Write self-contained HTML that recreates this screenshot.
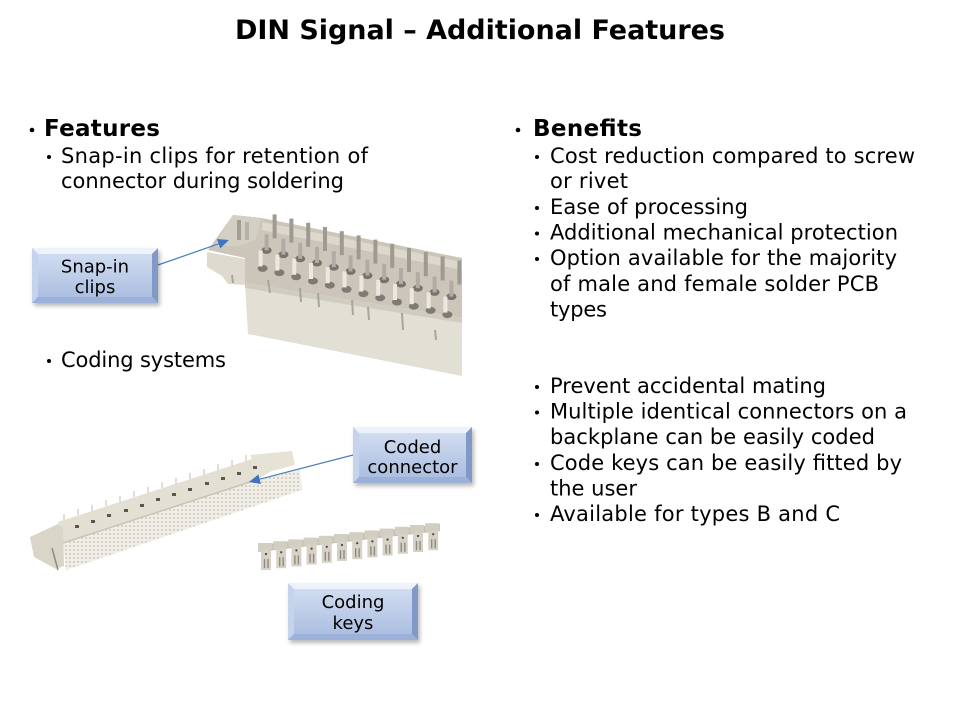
<!DOCTYPE html>
<html><head><meta charset="utf-8"><style>
html,body{margin:0;padding:0;background:#fff;width:960px;height:720px;overflow:hidden}
svg{display:block}
text{font-family:"DejaVu Sans","Liberation Sans",sans-serif;fill:#000}
</style></head><body>
<svg width="960" height="720" viewBox="0 0 960 720" xmlns="http://www.w3.org/2000/svg">
<defs>
<linearGradient id="face" x1="0" y1="0" x2="0" y2="1"><stop offset="0" stop-color="#d6e0f2"/><stop offset="1" stop-color="#a7bbdf"/></linearGradient>
<filter id="sh" x="-20%" y="-20%" width="140%" height="150%"><feGaussianBlur stdDeviation="2"/></filter>
<pattern id="dots" width="4" height="4" patternUnits="userSpaceOnUse"><rect width="4" height="4" fill="#f0eee7"/><circle cx="2" cy="2" r="1" fill="#cbc7bc"/></pattern>
<clipPath id="c1"><rect x="190" y="200" width="273" height="190"/></clipPath>
</defs>
<rect width="960" height="720" fill="#fff"/>

<!-- Title -->
<text x="480" y="39" font-size="27" font-weight="bold" text-anchor="middle" textLength="490" lengthAdjust="spacing">DIN Signal – Additional Features</text>

<!-- Left column -->
<circle cx="32" cy="130" r="2.3" fill="#000"/>
<text x="44" y="136" font-size="23" font-weight="bold" textLength="116" lengthAdjust="spacing">Features</text>
<circle cx="49" cy="157" r="2" fill="#000"/>
<text x="61" y="163" font-size="21" textLength="307" lengthAdjust="spacing">Snap-in clips for retention of</text>
<text x="61" y="188" font-size="21" textLength="283" lengthAdjust="spacing">connector during soldering</text>
<circle cx="49" cy="361" r="2" fill="#000"/>
<text x="61" y="367" font-size="21" textLength="165" lengthAdjust="spacing">Coding systems</text>

<!-- Right column -->
<circle cx="518" cy="130" r="2.3" fill="#000"/>
<text x="533" y="136" font-size="23" font-weight="bold" textLength="109" lengthAdjust="spacing">Benefits</text>
<g font-size="21">
<circle cx="537" cy="157" r="2" fill="#000"/>
<text x="550" y="163" textLength="365" lengthAdjust="spacing">Cost reduction compared to screw</text>
<text x="550" y="188" textLength="78" lengthAdjust="spacing">or rivet</text>
<circle cx="537" cy="208" r="2" fill="#000"/>
<text x="550" y="214" textLength="198" lengthAdjust="spacing">Ease of processing</text>
<circle cx="537" cy="233.5" r="2" fill="#000"/>
<text x="550" y="239.5" textLength="348" lengthAdjust="spacing">Additional mechanical protection</text>
<circle cx="537" cy="259" r="2" fill="#000"/>
<text x="550" y="265" textLength="347" lengthAdjust="spacing">Option available for the majority</text>
<text x="550" y="291" textLength="329" lengthAdjust="spacing">of male and female solder PCB</text>
<text x="550" y="316.5" textLength="57" lengthAdjust="spacing">types</text>
<circle cx="537" cy="387" r="2" fill="#000"/>
<text x="550" y="393" textLength="276" lengthAdjust="spacing">Prevent accidental mating</text>
<circle cx="537" cy="412.5" r="2" fill="#000"/>
<text x="550" y="418.5" textLength="357" lengthAdjust="spacing">Multiple identical connectors on a</text>
<text x="550" y="444" textLength="325" lengthAdjust="spacing">backplane can be easily coded</text>
<circle cx="537" cy="464" r="2" fill="#000"/>
<text x="550" y="470" textLength="352" lengthAdjust="spacing">Code keys can be easily fitted by</text>
<text x="550" y="495.5" textLength="87" lengthAdjust="spacing">the user</text>
<circle cx="537" cy="515" r="2" fill="#000"/>
<text x="550" y="521" textLength="290" lengthAdjust="spacing">Available for types B and C</text>
</g>

<!-- Connector 1 (upper) -->
<g clip-path="url(#c1)">
<polygon points="233,215 262,218 462,258 462,318 245,283 245,258 208,250" fill="#cbc6b9"/>
<polygon points="262,222 462,262 462,270 262,230" fill="#dcd8cc"/>
<polygon points="233,215 262,218 255,240 240,246 214,246" fill="#d3cfc3"/>
<rect x="237" y="220" width="4" height="20" fill="#a29e95"/>
<rect x="245" y="222" width="4" height="18" fill="#b5b1a8"/>
<polygon points="207,252 245,259 245,285 228,284 222,276 207,267" fill="#dedacf"/>
<polygon points="245,283 462,318 462,376 248,334" fill="#e2dfd5"/>
<polygon points="245,283 462,318 462,323 245,288" fill="#d0ccc0"/>
<!-- row 0 pins -->
<g fill="#9e9a92">
<rect x="272.6" y="214.4" width="4" height="24"/><rect x="289.4" y="218.6" width="4" height="24"/>
<rect x="306.2" y="222.8" width="4" height="24"/><rect x="323" y="227" width="4" height="24"/>
<rect x="339.8" y="231.2" width="4" height="24"/><rect x="356.6" y="235.4" width="4" height="24"/>
<rect x="373.4" y="239.6" width="4" height="24"/><rect x="390.2" y="243.8" width="4" height="24"/>
<rect x="407" y="248" width="4" height="24"/><rect x="423.8" y="252.2" width="4" height="24"/>
<rect x="440.6" y="256.4" width="4" height="24"/><rect x="457.4" y="260.6" width="4" height="24"/>
</g>
<!-- row 1 pins + sockets -->
<g fill="#77726d">
<ellipse cx="266.6" cy="250.4" rx="5" ry="3.5"/><ellipse cx="283.4" cy="254.6" rx="5" ry="3.5"/>
<ellipse cx="300.2" cy="258.8" rx="5" ry="3.5"/><ellipse cx="317" cy="263" rx="5" ry="3.5"/>
<ellipse cx="333.8" cy="267.2" rx="5" ry="3.5"/><ellipse cx="350.6" cy="271.4" rx="5" ry="3.5"/>
<ellipse cx="367.4" cy="275.6" rx="5" ry="3.5"/><ellipse cx="384.2" cy="279.8" rx="5" ry="3.5"/>
<ellipse cx="401" cy="284" rx="5" ry="3.5"/><ellipse cx="417.8" cy="288.2" rx="5" ry="3.5"/>
<ellipse cx="434.6" cy="292.4" rx="5" ry="3.5"/><ellipse cx="451.4" cy="296.6" rx="5" ry="3.5"/>
</g>
<g fill="#b0aca3">
<rect x="264.6" y="234.4" width="4" height="16"/><rect x="281.4" y="238.6" width="4" height="16"/>
<rect x="298.2" y="242.8" width="4" height="16"/><rect x="315" y="247" width="4" height="16"/>
<rect x="331.8" y="251.2" width="4" height="16"/><rect x="348.6" y="255.4" width="4" height="16"/>
<rect x="365.4" y="259.6" width="4" height="16"/><rect x="382.2" y="263.8" width="4" height="16"/>
<rect x="399" y="268" width="4" height="16"/><rect x="415.8" y="272.2" width="4" height="16"/>
<rect x="432.6" y="276.4" width="4" height="16"/><rect x="449.4" y="280.6" width="4" height="16"/>
</g>
<!-- row 2 pins + sockets -->
<g fill="#7f7a74">
<ellipse cx="262.6" cy="268.4" rx="5" ry="3.5"/><ellipse cx="279.4" cy="272.6" rx="5" ry="3.5"/>
<ellipse cx="296.2" cy="276.8" rx="5" ry="3.5"/><ellipse cx="313" cy="281" rx="5" ry="3.5"/>
<ellipse cx="329.8" cy="285.2" rx="5" ry="3.5"/><ellipse cx="346.6" cy="289.4" rx="5" ry="3.5"/>
<ellipse cx="363.4" cy="293.6" rx="5" ry="3.5"/><ellipse cx="380.2" cy="297.8" rx="5" ry="3.5"/>
<ellipse cx="397" cy="302" rx="5" ry="3.5"/><ellipse cx="413.8" cy="306.2" rx="5" ry="3.5"/>
<ellipse cx="430.6" cy="310.4" rx="5" ry="3.5"/><ellipse cx="447.4" cy="314.6" rx="5" ry="3.5"/>
</g>
<g fill="#ebe8df">
<rect x="258.6" y="250.4" width="4" height="16"/><rect x="275.4" y="254.6" width="4" height="16"/>
<rect x="292.2" y="258.8" width="4" height="16"/><rect x="309" y="263" width="4" height="16"/>
<rect x="325.8" y="267.2" width="4" height="16"/><rect x="342.6" y="271.4" width="4" height="16"/>
<rect x="359.4" y="275.6" width="4" height="16"/><rect x="376.2" y="279.8" width="4" height="16"/>
<rect x="393" y="284" width="4" height="16"/><rect x="409.8" y="288.2" width="4" height="16"/>
<rect x="426.6" y="292.4" width="4" height="16"/><rect x="443.4" y="296.6" width="4" height="16"/>
</g>
<!-- front face ribs -->
<g stroke="#a9a599" stroke-width="2">
<line x1="268" y1="280" x2="270" y2="293"/><line x1="300" y1="288" x2="301" y2="302"/>
<line x1="318" y1="293" x2="319" y2="307"/><line x1="352" y1="300" x2="353" y2="315"/>
<line x1="368" y1="307" x2="369" y2="320"/><line x1="402" y1="313" x2="403" y2="330"/>
<line x1="435" y1="330" x2="436" y2="340"/><line x1="232" y1="275" x2="233" y2="283"/>
</g>
</g>

<!-- Connector 2 (lower-left) -->
<polygon points="63,543 256,480 300,470 302,490 66,570" fill="url(#dots)"/>
<polygon points="58,522 252,459 256,480 63,543" fill="#e3dfd3"/>
<line x1="63" y1="543" x2="256" y2="480" stroke="#c8c4b7" stroke-width="1.5"/>
<polygon points="250,455 292,451 295,465 272,471 256,480 252,459" fill="#e6e2d6"/>
<polygon points="30,537 58,524 63,528 64,566 56,569 34,557" fill="#d9d5c8"/>
<line x1="52" y1="548" x2="58" y2="570" stroke="#8e8a82" stroke-width="1.5"/>
<g stroke="#c2beb3" stroke-width="1">
<line x1="64" y1="520" x2="64" y2="514"/><line x1="78" y1="515" x2="78" y2="509"/>
<line x1="92" y1="511" x2="92" y2="505"/><line x1="106" y1="506" x2="106" y2="500"/>
<line x1="120" y1="502" x2="120" y2="496"/><line x1="134" y1="497" x2="134" y2="491"/>
<line x1="148" y1="493" x2="148" y2="487"/><line x1="162" y1="488" x2="162" y2="482"/>
<line x1="176" y1="484" x2="176" y2="478"/><line x1="190" y1="479" x2="190" y2="473"/>
<line x1="204" y1="475" x2="204" y2="469"/><line x1="218" y1="470" x2="218" y2="464"/>
<line x1="232" y1="466" x2="232" y2="460"/><line x1="246" y1="461" x2="246" y2="455"/>
</g>
<g fill="#5a5650">
<rect x="75" y="525" width="4" height="3"/><rect x="91" y="520" width="4" height="3"/>
<rect x="107" y="514" width="4" height="3"/><rect x="124" y="509" width="4" height="3"/>
<rect x="140" y="504" width="4" height="3"/><rect x="156" y="498" width="4" height="3"/>
<rect x="172" y="493" width="4" height="3"/><rect x="188" y="488" width="4" height="3"/>
<rect x="205" y="482" width="4" height="3"/><rect x="221" y="477" width="4" height="3"/>
<rect x="237" y="472" width="4" height="3"/><rect x="253" y="466" width="4" height="3"/>
</g>

<!-- Coding keys -->
<polygon points="258,545 440,524 440,531 258,552" fill="#c4c0b2"/>
<g fill="#d2cec1">
<rect x="258" y="543" width="14" height="8"/><rect x="273.2" y="541.2" width="14" height="8"/>
<rect x="288.4" y="539.4" width="14" height="8"/><rect x="303.6" y="537.6" width="14" height="8"/>
<rect x="318.8" y="535.8" width="14" height="8"/><rect x="334" y="534" width="14" height="8"/>
<rect x="349.2" y="532.2" width="14" height="8"/><rect x="364.4" y="530.4" width="14" height="8"/>
<rect x="379.6" y="528.6" width="14" height="8"/><rect x="394.8" y="526.8" width="14" height="8"/>
<rect x="410" y="525" width="14" height="8"/><rect x="425.2" y="523.2" width="14" height="8"/>
</g>
<g fill="#d6d2c6">
<rect x="261" y="550" width="10" height="20"/><rect x="276.2" y="548.2" width="10" height="20"/>
<rect x="291.4" y="546.4" width="10" height="20"/><rect x="306.6" y="544.6" width="10" height="20"/>
<rect x="321.8" y="542.8" width="10" height="20"/><rect x="337" y="541" width="10" height="20"/>
<rect x="352.2" y="539.2" width="10" height="20"/><rect x="367.4" y="537.4" width="10" height="20"/>
<rect x="382.6" y="535.6" width="10" height="20"/><rect x="397.8" y="533.8" width="10" height="20"/>
<rect x="413" y="532" width="10" height="20"/><rect x="428.2" y="530.2" width="10" height="20"/>
</g>
<g stroke="#8f8b80" stroke-width="1.4">
<path d="M264.5 559v9M268 559v9M279.7 557.2v9M283.2 557.2v9M294.9 555.4v9M298.4 555.4v9M310.1 553.6v9M313.6 553.6v9M325.3 551.8v9M328.8 551.8v9M340.5 550v9M344 550v9M355.7 548.2v9M359.2 548.2v9M370.9 546.4v9M374.4 546.4v9M386.1 544.6v9M389.6 544.6v9M401.3 542.8v9M404.8 542.8v9M416.5 541v9M420 541v9M431.7 539.2v9M435.2 539.2v9"/>
</g>
<g fill="#4a4640">
<circle cx="266" cy="554" r="1.1"/><circle cx="281.2" cy="552.2" r="1.1"/><circle cx="296.4" cy="550.4" r="1.1"/>
<circle cx="311.6" cy="548.6" r="1.1"/><circle cx="326.8" cy="546.8" r="1.1"/><circle cx="342" cy="545" r="1.1"/>
<circle cx="357.2" cy="543.2" r="1.1"/><circle cx="372.4" cy="541.4" r="1.1"/><circle cx="387.6" cy="539.6" r="1.1"/>
<circle cx="402.8" cy="537.8" r="1.1"/><circle cx="418" cy="536" r="1.1"/><circle cx="433.2" cy="534.2" r="1.1"/>
</g>

<!-- Arrows -->
<line x1="158" y1="265" x2="219" y2="243.7" stroke="#4a7ebb" stroke-width="1.2"/>
<polygon points="229,240 220.3,248.4 216.9,239" fill="#3f74c2"/>
<line x1="353" y1="455" x2="259.6" y2="479.2" stroke="#4a7ebb" stroke-width="1.2"/>
<polygon points="249,482 260.9,484 258.4,474.4" fill="#3f74c2"/>

<!-- Bevel boxes -->
<g>
<rect x="34" y="251" width="126" height="55" fill="#000" opacity="0.28" filter="url(#sh)"/>
<rect x="32" y="248" width="126" height="55" fill="url(#face)"/>
<polygon points="32,248 158,248 152,254 38,254" fill="#eef2fa"/>
<polygon points="32,248 38,254 38,297 32,303" fill="#c6d3ec"/>
<polygon points="158,248 158,303 152,297 152,254" fill="#8199c6"/>
<polygon points="32,303 38,297 152,297 158,303" fill="#9cb1d9"/>
<text x="95" y="272.5" font-size="18" text-anchor="middle">Snap-in</text>
<text x="95" y="293" font-size="18" text-anchor="middle">clips</text>
</g>
<g>
<rect x="355" y="430" width="119" height="56" fill="#000" opacity="0.28" filter="url(#sh)"/>
<rect x="353" y="427" width="119" height="56" fill="url(#face)"/>
<polygon points="353,427 472,427 466,433 359,433" fill="#eef2fa"/>
<polygon points="353,427 359,433 359,477 353,483" fill="#c6d3ec"/>
<polygon points="472,427 472,483 466,477 466,433" fill="#8199c6"/>
<polygon points="353,483 359,477 466,477 472,483" fill="#9cb1d9"/>
<text x="412.5" y="453" font-size="18" text-anchor="middle">Coded</text>
<text x="412.5" y="473" font-size="18" text-anchor="middle">connector</text>
</g>
<g>
<rect x="290" y="586" width="130" height="57" fill="#000" opacity="0.28" filter="url(#sh)"/>
<rect x="288" y="583" width="130" height="57" fill="url(#face)"/>
<polygon points="288,583 418,583 412,589 294,589" fill="#eef2fa"/>
<polygon points="288,583 294,589 294,634 288,640" fill="#c6d3ec"/>
<polygon points="418,583 418,640 412,634 412,589" fill="#8199c6"/>
<polygon points="288,640 294,634 412,634 418,640" fill="#9cb1d9"/>
<text x="353" y="608" font-size="18" text-anchor="middle">Coding</text>
<text x="353" y="629" font-size="18" text-anchor="middle">keys</text>
</g>
</svg>
</body></html>
